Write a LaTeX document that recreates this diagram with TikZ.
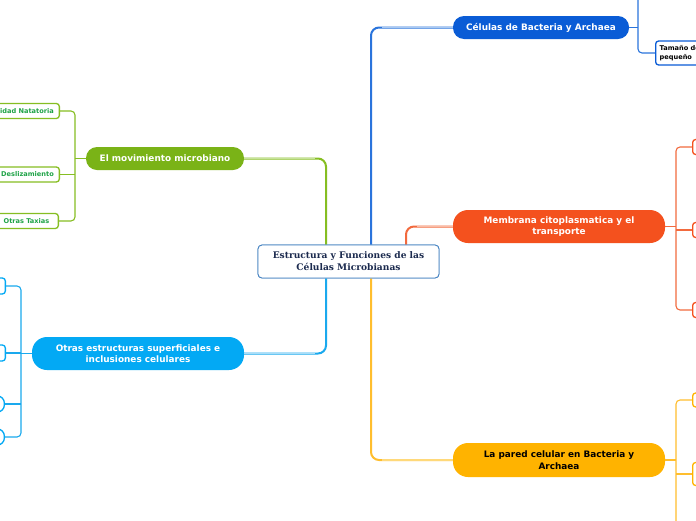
\documentclass[tikz,border=0pt]{standalone}
\usepackage{fontspec}
\setmainfont{DejaVu Sans}
\newfontfamily\serifb{DejaVu Serif}
\usetikzlibrary{calc}
\definecolor{cBlue}{HTML}{0A5CD6}
\definecolor{cBlueT}{HTML}{2A74DC}
\definecolor{cBlueL}{HTML}{A9C9F1}
\definecolor{cOrange}{HTML}{F4511E}
\definecolor{cOrangeT}{HTML}{F26A3E}
\definecolor{cOrangeL}{HTML}{F9BCA6}
\definecolor{cAmber}{HTML}{FFB300}
\definecolor{cAmberT}{HTML}{FFBE2E}
\definecolor{cAmberL}{HTML}{FFD97A}
\definecolor{cGreen}{HTML}{7AB317}
\definecolor{cGreenT}{HTML}{86BE22}
\definecolor{cGreenL}{HTML}{C6E29A}
\definecolor{cGreenText}{HTML}{1FA347}
\definecolor{cSky}{HTML}{03A9F4}
\definecolor{cSkyT}{HTML}{1AA9EE}
\definecolor{cSkyL}{HTML}{A8DDF8}
\definecolor{cCenter}{HTML}{3F7FC0}
\definecolor{cNavy}{HTML}{1B2A4E}
\tikzset{
  cnode/.style={draw=cCenter, line width=0.8pt, rounded corners=4pt, fill=white,
    minimum width=181pt, minimum height=33pt, align=center, inner sep=0pt,
    font=\serifb\bfseries\fontsize{9.1}{12}\selectfont, text=cNavy},
  pill/.style={align=center, inner sep=0pt, text=white,
    font=\bfseries\fontsize{8.9}{11.5}\selectfont},
  leaf/.style={draw, line width=1.3pt, rounded corners=3pt, fill=white, inner sep=0pt,
    font=\bfseries\fontsize{6.6}{8.8}\selectfont},
  trunk/.style={line width=2pt, rounded corners=8pt},
  fade/.style={line width=1.4pt},
  twig/.style={line width=1.1pt, rounded corners=4pt}
}
\begin{document}
\begin{tikzpicture}[x=1pt,y=-1pt]
\useasboundingbox (0,0) rectangle (696,520);
\clip (0,0) rectangle (696,520);
\fill[white] (0,0) rectangle (696,520);

% central
\node[cnode] (c) at (348.5,261.5) {Estructura y Funciones de las\\Células Microbianas};

% main branches
\node[pill, fill=cBlue, minimum width=176pt, minimum height=23pt, rounded corners=11pt] (b) at (541,27.5) {Células de Bacteria y Archaea};
\node[pill, fill=cOrange, minimum width=212pt, minimum height=33pt, rounded corners=15pt] (o) at (559,226.5) {Membrana citoplasmatica y el\\transporte};
\node[pill, fill=cAmber, text=black, minimum width=212pt, minimum height=34pt, rounded corners=15pt] (a) at (559,460) {La pared celular en Bacteria y\\Archaea};
\node[pill, fill=cGreen, minimum width=158pt, minimum height=23pt, rounded corners=11pt] (g) at (165,158.5) {El movimiento microbiano};
\node[pill, fill=cSky, minimum width=212pt, minimum height=33pt, rounded corners=15pt] (s) at (138,353.5) {Otras estructuras superficiales e\\inclusiones celulares};

% trunk coordinates
\coordinate (gt) at (326,0);
\coordinate (bt) at (371,0);
\coordinate (ot) at (406,0);

% trunks
\draw[trunk, cGreenT] (c.north -| gt) |- (g.east);
\draw[fade, cGreenL] ($(gt |- g.east)+(-11,0)$) -- (g.east);
\draw[trunk, cSkyT] (c.south -| gt) |- (s.east);
\draw[fade, cSkyL] ($(gt |- s.east)+(-11,0)$) -- (s.east);
\draw[trunk, cBlueT] (c.north -| bt) |- (b.west);
\draw[fade, cBlueL] ($(bt |- b.west)+(11,0)$) -- (b.west);
\draw[trunk, cAmberT] (c.south -| bt) |- (a.west);
\draw[fade, cAmberL] ($(bt |- a.west)+(11,0)$) -- (a.west);
\draw[trunk, cOrangeT] (c.north -| ot) |- (o.west);
\draw[fade, cOrangeL] ($(ot |- o.west)+(11,0)$) -- (o.west);

% redraw central node on top
\node[cnode] at (c) {Estructura y Funciones de las\\Células Microbianas};

% blue leaves
\node[leaf, draw=cBlue, minimum height=24pt, text width=57pt, align=left, inner xsep=4pt, anchor=west] (b1) at (655,53) {Tamaño del\\pequeño};
\coordinate (bx) at (638,-6);
\draw[twig, cBlueT] (b.east) -- (b.east -| bx);
\draw[twig, cBlueT] (bx) -- (bx |- b1.west) -- (b1.west);

% orange leaves
\node[leaf, draw=cOrange, minimum width=30pt, minimum height=15pt, anchor=west] (o1) at (692,147) {};
\node[leaf, draw=cOrange, minimum width=30pt, minimum height=15pt, anchor=west] (o2) at (692,230) {};
\node[leaf, draw=cOrange, minimum width=30pt, minimum height=15pt, anchor=west] (o3) at (692,310) {};
\coordinate (ox) at (676,0);
\draw[twig, cOrangeT] (o.east) -- (o.east -| ox);
\draw[twig, cOrangeT] (o1.west) -- (o1.west -| ox) -- (ox |- o3.west) -- (o3.west);
\draw[twig, cOrangeT] (ox |- o2.west) -- (o2.west);

% amber leaves
\node[leaf, draw=cAmber, minimum width=30pt, minimum height=14pt, anchor=west] (a1) at (692,400) {};
\node[leaf, draw=cAmber, minimum width=30pt, minimum height=23pt, anchor=west] (a2) at (692,474) {};
\coordinate (ax) at (676,530);
\draw[twig, cAmberT] (a.east) -- (a.east -| ax);
\draw[twig, cAmberT] (a1.west) -- (a1.west -| ax) -- (ax);
\draw[twig, cAmberT] (ax |- a2.west) -- (a2.west);

% green leaves
\node[leaf, draw=cGreenT, text=cGreenText, minimum height=15pt, inner xsep=5.5pt, anchor=east] (g1) at (60,111) {Movilidad Natatoria};
\node[leaf, draw=cGreenT, text=cGreenText, minimum height=15pt, inner xsep=5.5pt, anchor=east] (g2) at (60,174.5) {Deslizamiento};
\node[leaf, draw=cGreenT, text=cGreenText, minimum height=15pt, inner xsep=9pt, anchor=east] (g3) at (59,221) {Otras Taxias};
\coordinate (gx) at (75,0);
\draw[twig, cGreenT] (g.west) -- (g.west -| gx);
\draw[twig, cGreenT] (g1.east) -- (g1.east -| gx) -- (gx |- g3.east) -- (g3.east);
\draw[twig, cGreenT] (gx |- g2.east) -- (g2.east);

% sky leaves
\node[leaf, draw=cSky, minimum width=30pt, minimum height=16pt, anchor=east] (s1) at (6,286) {};
\node[leaf, draw=cSky, minimum width=30pt, minimum height=16pt, anchor=east] (s2) at (6,353) {};
\node[leaf, draw=cSky, minimum width=30pt, minimum height=16pt, rounded corners=7pt, anchor=east] (s3) at (5,404) {};
\node[leaf, draw=cSky, minimum width=30pt, minimum height=16pt, rounded corners=7pt, anchor=east] (s4) at (5,437) {};
\coordinate (sx) at (21,0);
\draw[twig, cSkyT] (s.west) -- (s.west -| sx);
\draw[twig, cSkyT] (s1.east) -- (s1.east -| sx) -- (sx |- s4.east) -- (s4.east);
\draw[twig, cSkyT] (sx |- s2.east) -- (s2.east);
\draw[twig, cSkyT] (sx |- s3.east) -- (s3.east);
\end{tikzpicture}
\end{document}
